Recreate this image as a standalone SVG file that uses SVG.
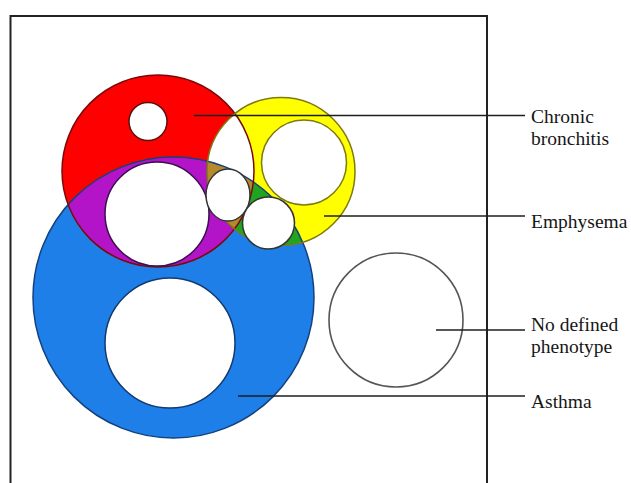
<svg xmlns="http://www.w3.org/2000/svg" width="631" height="483" viewBox="0 0 631 483">
<style>
.lbl{font-family:"Liberation Serif","Times New Roman",serif;font-size:19.5px;fill:#161616}
.conn{stroke:#1e1e1e;stroke-width:1.6;fill:none}
.hole{fill:#ffffff;stroke-width:1.5}
</style>
<defs>
<clipPath id="cRed"><circle cx="158" cy="171" r="96"/></clipPath>
<clipPath id="cYel"><circle cx="281" cy="171.5" r="74"/></clipPath>
</defs>
<rect width="631" height="483" fill="#ffffff"/>
<path d="M10.5,490 V16 H487 V490" fill="none" stroke="#222" stroke-width="2"/>
<g id="asthma">
<circle cx="173.5" cy="297.5" r="140.5" fill="#1f7fe8"/>
</g>
<g id="chronic-bronchitis">
<circle cx="158" cy="171" r="96" fill="#ff0000"/>
</g>
<g id="emphysema">
<circle cx="281" cy="171.5" r="74" fill="#ffff00"/>
</g>
<g id="overlaps">
<circle cx="173.5" cy="297.5" r="140.5" fill="#b414c8" clip-path="url(#cRed)"/>
<circle cx="173.5" cy="297.5" r="140.5" fill="#1fa51f" clip-path="url(#cYel)"/>
<g clip-path="url(#cYel)"><circle cx="158" cy="171" r="96" fill="#ffffff" clip-path="url(#cRed)"/></g>
<g clip-path="url(#cYel)"><circle cx="173.5" cy="297.5" r="140.5" fill="#b68a2a" clip-path="url(#cRed)"/></g>
</g>
<g id="outlines" fill="none" stroke-width="1.5">
<circle cx="173.5" cy="297.5" r="140.5" stroke="#14417f"/>
<circle cx="158" cy="171" r="96" stroke="#7a0a0a"/>
<circle cx="281" cy="171.5" r="74" stroke="#7d7a12"/>
</g>
<g id="holes">
<circle class="hole" cx="148" cy="121.5" r="19" stroke="#5a1010"/>
<circle class="hole" cx="157" cy="214" r="52" stroke="#3a1050"/>
<circle class="hole" cx="170" cy="343" r="65" stroke="#123a70"/>
<circle class="hole" cx="304" cy="162.5" r="42.5" stroke="#7d7a12"/>
<ellipse class="hole" cx="228" cy="195" rx="22" ry="26" stroke="#333"/>
<circle class="hole" cx="268.5" cy="223" r="26" stroke="#333"/>
</g>
<g id="no-defined-phenotype">
<circle cx="396" cy="320" r="67" fill="#ffffff" stroke="#555" stroke-width="1.6"/>
</g>
<g id="connectors">
<line class="conn" x1="194" y1="115.5" x2="525" y2="115.5"/>
<line class="conn" x1="324" y1="216" x2="525" y2="216"/>
<line class="conn" x1="436" y1="330" x2="525" y2="330"/>
<line class="conn" x1="238" y1="396" x2="525" y2="396"/>
</g>
<g id="labels">
<text class="lbl" x="531" y="123">Chronic</text>
<text class="lbl" x="531" y="145">bronchitis</text>
<text class="lbl" x="531" y="228">Emphysema</text>
<text class="lbl" x="531" y="331">No defined</text>
<text class="lbl" x="531" y="353">phenotype</text>
<text class="lbl" x="531" y="408">Asthma</text>
</g>
</svg>
